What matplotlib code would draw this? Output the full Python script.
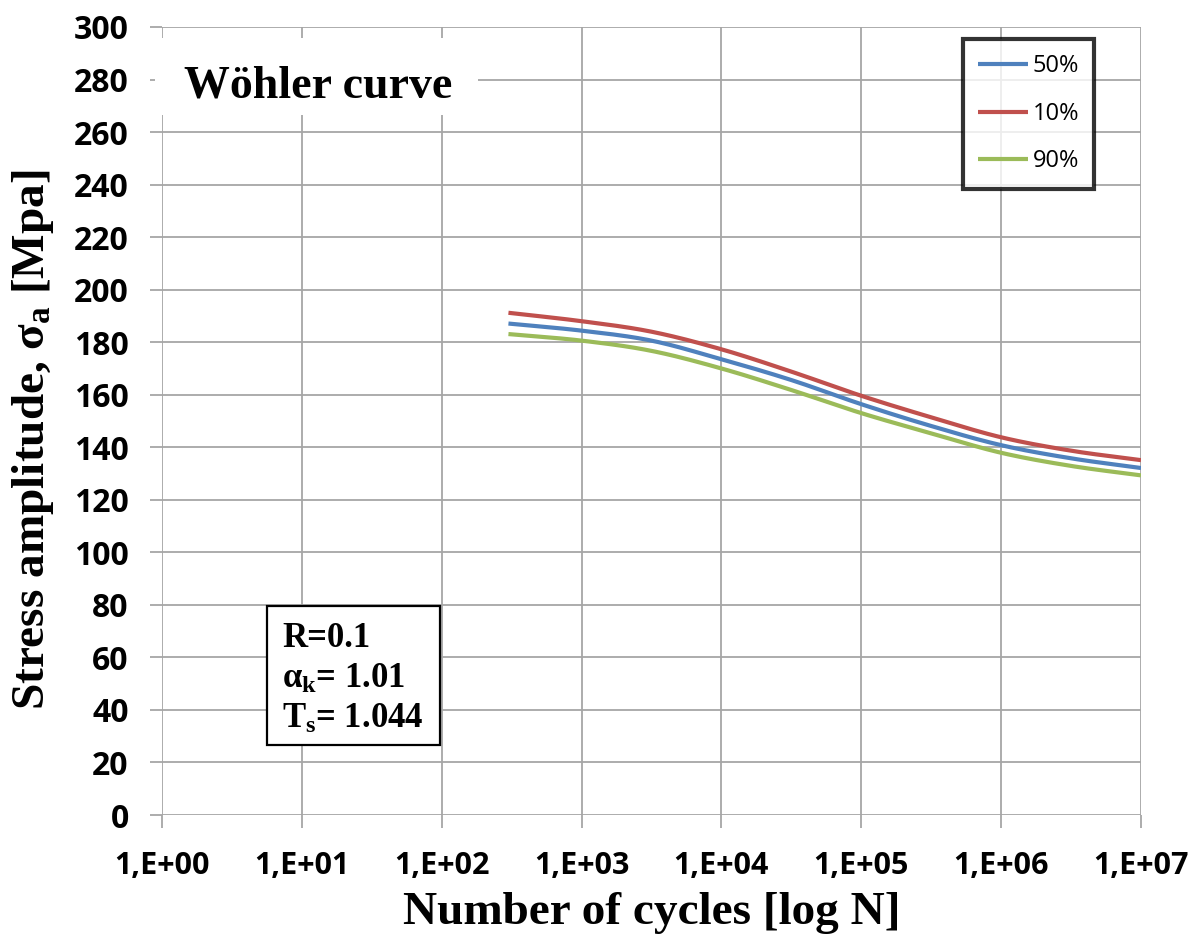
import math
import matplotlib
matplotlib.use("Agg")
import matplotlib.pyplot as plt
import numpy as np
from matplotlib.patches import Rectangle
from matplotlib.ticker import FixedLocator, FuncFormatter, NullLocator

# Wöhler curve data, N in cycles, stress in MPa
cycles = [300, 1e3, 3.16e3, 1e4, 3.16e4, 1e5, 3.16e5, 1e6, 3.16e6, 1e7]
s50 = [187.1, 184.4, 180.6, 173.5, 165.6, 156.4, 148.1, 140.8, 135.8, 132.1]
s10 = [191.2, 188.0, 184.0, 177.3, 168.8, 159.6, 151.4, 143.8, 138.7, 135.1]
s90 = [183.1, 180.6, 176.7, 170.0, 161.8, 153.0, 145.3, 137.9, 132.9, 129.3]

series = [("50%", s50, "#4F81BD"), ("10%", s10, "#C0504D"), ("90%", s90, "#9BBB59")]
xticks = [10.0 ** k for k in range(8)]
yticks = list(range(0, 301, 20))


def smooth(xs, ys, n=20):
    # Catmull-Rom drawing through the points (like Excel "smoothed line"), in log-x space
    lx = np.log10(xs)
    y = np.asarray(ys, float)
    px = np.concatenate([[2 * lx[0] - lx[1]], lx, [2 * lx[-1] - lx[-2]]])
    py = np.concatenate([[2 * y[0] - y[1]], y, [2 * y[-1] - y[-2]]])
    ox, oy = [], []
    t = np.linspace(0, 1, n, endpoint=False)
    for i in range(1, len(px) - 2):
        for p, out in ((px, ox), (py, oy)):
            p0, p1, p2, p3 = p[i - 1], p[i], p[i + 1], p[i + 2]
            out.extend(0.5 * (2 * p1 + (-p0 + p2) * t + (2 * p0 - 5 * p1 + 4 * p2 - p3) * t ** 2
                              + (-p0 + 3 * p1 - 3 * p2 + p3) * t ** 3))
    ox.append(lx[-1])
    oy.append(y[-1])
    return 10 ** np.array(ox), np.array(oy)


plt.rcParams["mathtext.fontset"] = "custom"
plt.rcParams["mathtext.rm"] = "Liberation Serif:bold"
plt.rcParams["mathtext.it"] = "Liberation Serif:bold"
plt.rcParams["mathtext.bf"] = "Liberation Serif:bold"

fig = plt.figure(figsize=(12.04, 9.4), dpi=100)
ax = fig.add_axes([162 / 1204, 1 - 815 / 940, (1141 - 162) / 1204, (815 - 27) / 940])

for name, vals, col in series:
    sx, sy = smooth(cycles, vals)
    ax.plot(sx, sy, color=col, lw=3, label=name, solid_capstyle="butt", zorder=4)

ax.set_xscale("log")
ax.set_xlim(1, 1e7)
ax.set_ylim(0, 300)
ax.xaxis.set_major_locator(FixedLocator(xticks))
ax.xaxis.set_minor_locator(NullLocator())
ax.xaxis.set_major_formatter(FuncFormatter(lambda v, p: "1,E+%02d" % round(math.log10(v))))
ax.set_yticks(yticks)

ax.grid(True, color="#A6A6A6", lw=1.3, zorder=0)
ax.set_axisbelow(True)
for sp in ax.spines.values():
    sp.set_visible(False)
ax.tick_params(axis="both", direction="out", length=9, width=1.3, color="#A6A6A6")
ax.tick_params(axis="x", pad=17)
ax.tick_params(axis="y", pad=15)
for lab in ax.get_xticklabels():
    lab.set_fontfamily("Open Sans")
    lab.set_fontweight("bold")
    lab.set_fontsize(22)
for lab in ax.get_yticklabels():
    lab.set_fontfamily("Open Sans")
    lab.set_fontweight("bold")
    lab.set_fontsize(23)

ax.set_xlabel("Number of cycles [log N]", family="Liberation Serif", weight="bold",
              fontsize=34, labelpad=8)
ax.set_ylabel(r"Stress amplitude, $\sigma_a$ [Mpa]", family="Liberation Serif",
              weight="bold", fontsize=34)
ax.yaxis.set_label_coords(-0.108, 0.476)

# title box
ax.add_patch(Rectangle((-0.007, 0.888), 0.33, 0.098, transform=ax.transAxes,
                       fc="white", ec="none", clip_on=False, zorder=3))
ax.text(0.16, 0.911, "Wöhler curve", transform=ax.transAxes, ha="center", va="baseline",
        family="Liberation Serif", weight="bold", fontsize=33, zorder=5)

# parameter box
ax.add_patch(Rectangle((0.107, 0.0888), 0.177, 0.176, transform=ax.transAxes,
                       fc="white", ec="black", lw=1.6, clip_on=False, zorder=3))
info = ["R=0.1", r"$\alpha_k$= 1.01", r"$T_s$= 1.044"]
for txt, yb in zip(info, [0.213, 0.161, 0.110]):
    ax.text(0.1226, yb, txt, transform=ax.transAxes, ha="left", va="baseline",
            family="Liberation Serif", weight="bold", fontsize=25, zorder=5)

leg = ax.legend(loc="upper left", bbox_to_anchor=(0.818, 0.985), borderaxespad=0,
                prop={"family": "Open Sans", "size": 17}, frameon=True, fancybox=False,
                handlelength=2.1, handletextpad=0.2, borderpad=0.65, labelspacing=1.0)
leg.get_frame().set_edgecolor("black")
leg.get_frame().set_linewidth(3)
leg.set_zorder(6)

fig.savefig("out.png", dpi=100)
